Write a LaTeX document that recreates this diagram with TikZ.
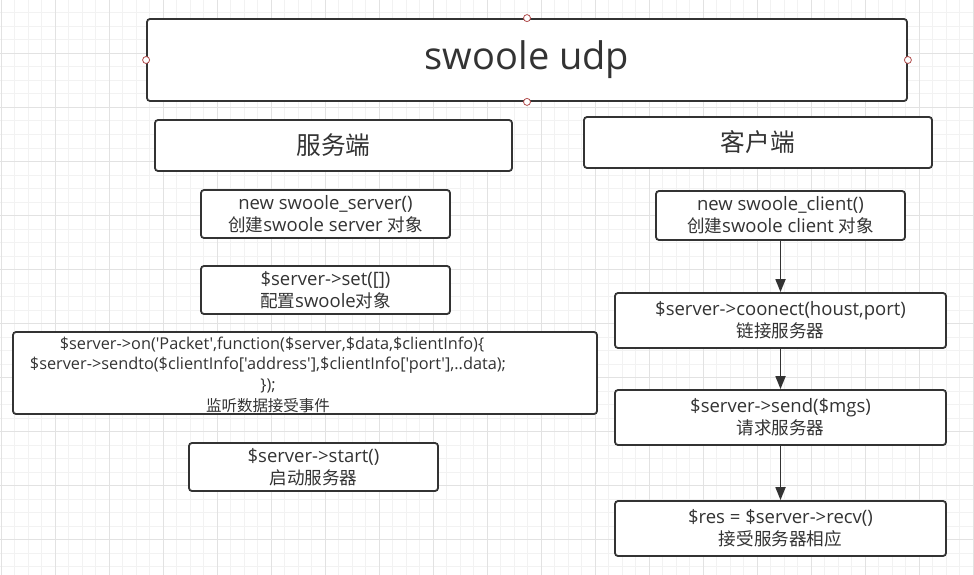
\documentclass[tikz,border=0pt]{standalone}
\usepackage{fontspec}
\newfontfamily\latinfont{Open Sans}
\newfontfamily\cjk{Noto Sans CJK SC}[Scale=0.95]
\usetikzlibrary{arrows.meta}
\definecolor{ink}{HTML}{333333}
\definecolor{gridminor}{HTML}{F2F2F2}
\definecolor{gridmajor}{HTML}{E2E2E2}
\definecolor{handle}{HTML}{B04A4A}
\tikzset{
  box/.style={draw=ink, line width=1.8pt, rounded corners=3pt, fill=white, text=ink,
    align=center, inner sep=0pt, font=\latinfont\fontsize{18.5}{22}\selectfont},
  headbox/.style={box, font=\cjk\fontsize{26}{30}\selectfont},
  titlebox/.style={box, font=\latinfont\fontsize{38}{40}\selectfont},
  txt/.style={text=ink, align=center, inner sep=0pt, font=\latinfont\fontsize{16.3}{20.7}\selectfont},
  flow/.style={draw=ink, line width=1.8pt, -{Triangle[length=13pt,width=10pt]}},
  handlept/.style={circle, draw=handle, fill=white, line width=0.8pt, minimum size=7pt, inner sep=0pt},
}
\begin{document}
\begin{tikzpicture}[x=1pt,y=-1pt]
\useasboundingbox (0,0) rectangle (974,575);
\fill[white] (0,0) rectangle (974,575);
% grid
\foreach \i in {0,...,72} { \draw[gridminor, line width=1pt] ({1+13.5*\i},0) -- ({1+13.5*\i},575); }
\foreach \i in {1,...,43} { \draw[gridminor, line width=1pt] (0,{-0.5+13.5*\i}) -- (974,{-0.5+13.5*\i}); }
\foreach \i in {0,...,18} { \draw[gridmajor, line width=1pt] ({1+54*\i},0) -- ({1+54*\i},575); }
\foreach \i in {1,...,10} { \draw[gridmajor, line width=1pt] (0,{-0.5+54*\i}) -- (974,{-0.5+54*\i}); }

% title
\node[titlebox, minimum width=760pt, minimum height=82pt] (title) at (527,60) {swoole udp};
\node[handlept] (hn) at (title.north) {};
\node[handlept] (hs) at (title.south) {};
\node[handlept] (hw) at (title.west) {};
\node[handlept] (he) at (title.east) {};

% headers
\node[headbox, minimum width=357pt, minimum height=51pt] (server) at (333.5,145.5) {服务端};
\node[headbox, minimum width=348pt, minimum height=51pt] (client) at (758,142.5) {客户端};

% server column
\node[box, minimum width=249pt, minimum height=48pt] (snew) at (325.5,214)
  {new swoole\_server()\\{\cjk 创建}swoole server {\cjk 对象}};
\node[box, minimum width=249pt, minimum height=48pt] (sset) at (325.5,290)
  {\$server->set([])\\{\cjk 配置}swoole{\cjk 对象}};
\node[box, minimum width=584pt, minimum height=82pt] (son) at (305,373) {};
\node[txt] (sontext) at (268,374.5)
  {\hspace*{8pt}\$server->on('Packet',function(\$server,\$data,\$clientInfo)\{\\
   \$server->sendto(\$clientInfo['address'],\$clientInfo['port'],..data);\\
   \});\\
   {\cjk 监听数据接受事件}};
\node[box, minimum width=249pt, minimum height=48pt] (sstart) at (313.5,467)
  {\$server->start()\\{\cjk 启动服务器}};

% client column
\node[box, minimum width=249pt, minimum height=49pt] (cnew) at (780.5,215.5)
  {new swoole\_client()\\{\cjk 创建}swoole client {\cjk 对象}};
\node[box, minimum width=331pt, minimum height=55pt] (cconn) at (780.5,320.5)
  {\$server->coonect(houst,port)\\{\cjk 链接服务器}};
\node[box, minimum width=331pt, minimum height=55pt] (csend) at (780.5,417.5)
  {\$server->send(\$mgs)\\{\cjk 请求服务器}};
\node[box, minimum width=331pt, minimum height=55pt] (crecv) at (780.5,528.5)
  {\$res = \$server->recv()\\{\cjk 接受服务器相应}};

\draw[flow] (cnew) -- (cconn);
\draw[flow] (cconn) -- (csend);
\draw[flow] (csend) -- (crecv);
\end{tikzpicture}
\end{document}
